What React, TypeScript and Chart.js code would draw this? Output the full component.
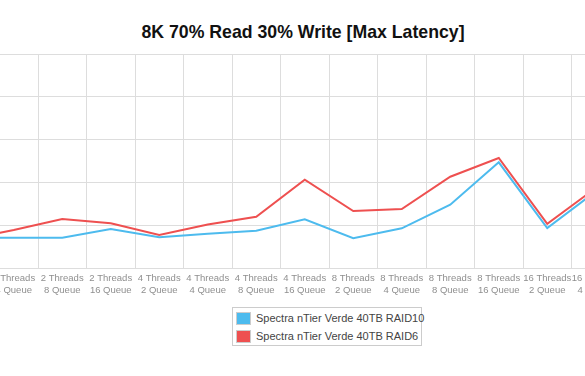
import React, { useEffect, useRef } from "react";
import { Chart, registerables } from "chart.js";

Chart.register(...registerables);

const chartTitle = "8K 70% Read 30% Write [Max Latency]";

const categories: string[][] = [
  ["2 Threads", "2 Queue"],
  ["2 Threads", "4 Queue"],
  ["2 Threads", "8 Queue"],
  ["2 Threads", "16 Queue"],
  ["4 Threads", "2 Queue"],
  ["4 Threads", "4 Queue"],
  ["4 Threads", "8 Queue"],
  ["4 Threads", "16 Queue"],
  ["8 Threads", "2 Queue"],
  ["8 Threads", "4 Queue"],
  ["8 Threads", "8 Queue"],
  ["8 Threads", "16 Queue"],
  ["16 Threads", "2 Queue"],
  ["16 Threads", "4 Queue"],
  ["16 Threads", "8 Queue"],
  ["16 Threads", "16 Queue"],
];

const raid10Label = "Spectra nTier Verde 40TB RAID10";
const raid6Label = "Spectra nTier Verde 40TB RAID6";

const raid10Values = [35.4, 35.4, 35.4, 45.6, 35.9, 40.1, 43.6, 56.9, 34.7, 46.4, 73.9, 123.5, 46.7, 89.5, 75, 100];
const raid6Values = [33.1, 44.4, 57.2, 52.2, 38.5, 50.7, 59.9, 103.1, 66.6, 68.9, 106.6, 128.5, 51.7, 93.4, 80, 110];

const yMin = 0;
const yMax = 250;
const yStep = 50;

const blue = "#4DBBEE";
const red = "#EE5050";
const fontFamily = "'Liberation Sans', Arial, Helvetica, sans-serif";

export default function App() {
  const ref = useRef<HTMLCanvasElement>(null);

  useEffect(() => {
    const chart = new Chart(ref.current!, {
      type: "line",
      data: {
        labels: categories,
        datasets: [
          {
            label: raid10Label,
            data: raid10Values,
            borderColor: blue,
            backgroundColor: blue,
            borderWidth: 2,
            pointRadius: 0,
            tension: 0,
            fill: false,
          },
          {
            label: raid6Label,
            data: raid6Values,
            borderColor: red,
            backgroundColor: red,
            borderWidth: 2,
            pointRadius: 0,
            tension: 0,
            fill: false,
          },
        ],
      },
      options: {
        responsive: false,
        animation: false,
        layout: { padding: { top: 10, left: 0, right: 0, bottom: 0 } },
        plugins: {
          legend: { display: false },
          title: { display: false },
          tooltip: { enabled: false },
        },
        scales: {
          x: {
            offset: true,
            grid: { offset: true, color: "#dddddd", drawTicks: false, lineWidth: 1 },
            border: { color: "#dddddd" },
            ticks: {
              color: "#8f8f8f",
              font: { size: 9.5, family: fontFamily, lineHeight: 1.2 },
              padding: 5,
              maxRotation: 0,
              autoSkip: false,
            },
            afterFit: (s: any) => {
              s.paddingLeft = 0;
              s.paddingRight = 0;
              s.height = 28;
            },
          },
          y: {
            min: yMin,
            max: yMax,
            ticks: {
              stepSize: yStep,
              color: "#8f8f8f",
              font: { size: 10, family: fontFamily },
            },
            grid: { color: "#dddddd", drawTicks: false },
            border: { color: "#dddddd" },
            afterFit: (s: any) => {
              s.width = 50;
              s.paddingTop = 0;
              s.paddingBottom = 0;
            },
          },
        },
      },
    });
    return () => chart.destroy();
  }, []);

  const legendItems = [
    { label: raid10Label, color: blue },
    { label: raid6Label, color: red },
  ];

  return (
    <div
      style={{
        position: "fixed",
        left: 0,
        top: 0,
        width: 585,
        height: 376,
        overflow: "hidden",
        background: "#ffffff",
        fontFamily,
      }}
    >
      <div
        style={{
          position: "absolute",
          left: 0,
          top: 23,
          width: 606,
          textAlign: "center",
          fontSize: 17.7,
          lineHeight: "18px",
          fontWeight: "bold",
          color: "#111111",
          whiteSpace: "nowrap",
        }}
      >
        {chartTitle}
      </div>
      <canvas
        ref={ref}
        width={826}
        height={252}
        style={{ position: "absolute", left: -109, top: 44, width: 826, height: 252 }}
      />
      <div
        style={{
          position: "absolute",
          left: 232,
          top: 307,
          width: 188,
          height: 37,
          border: "1px solid #cccccc",
          boxSizing: "content-box",
        }}
      >
        {legendItems.map((it, i) => (
          <div
            key={i}
            style={{
              position: "absolute",
              left: 3,
              top: 3 + i * 18,
              height: 14,
              display: "flex",
              alignItems: "center",
              whiteSpace: "nowrap",
            }}
          >
            <span
              style={{
                display: "inline-block",
                width: 13,
                height: 11,
                background: it.color,
                border: "1px solid #cccccc",
                marginRight: 5,
              }}
            />
            <span style={{ fontSize: 11, color: "#444444", lineHeight: "14px" }}>{it.label}</span>
          </div>
        ))}
      </div>
    </div>
  );
}
